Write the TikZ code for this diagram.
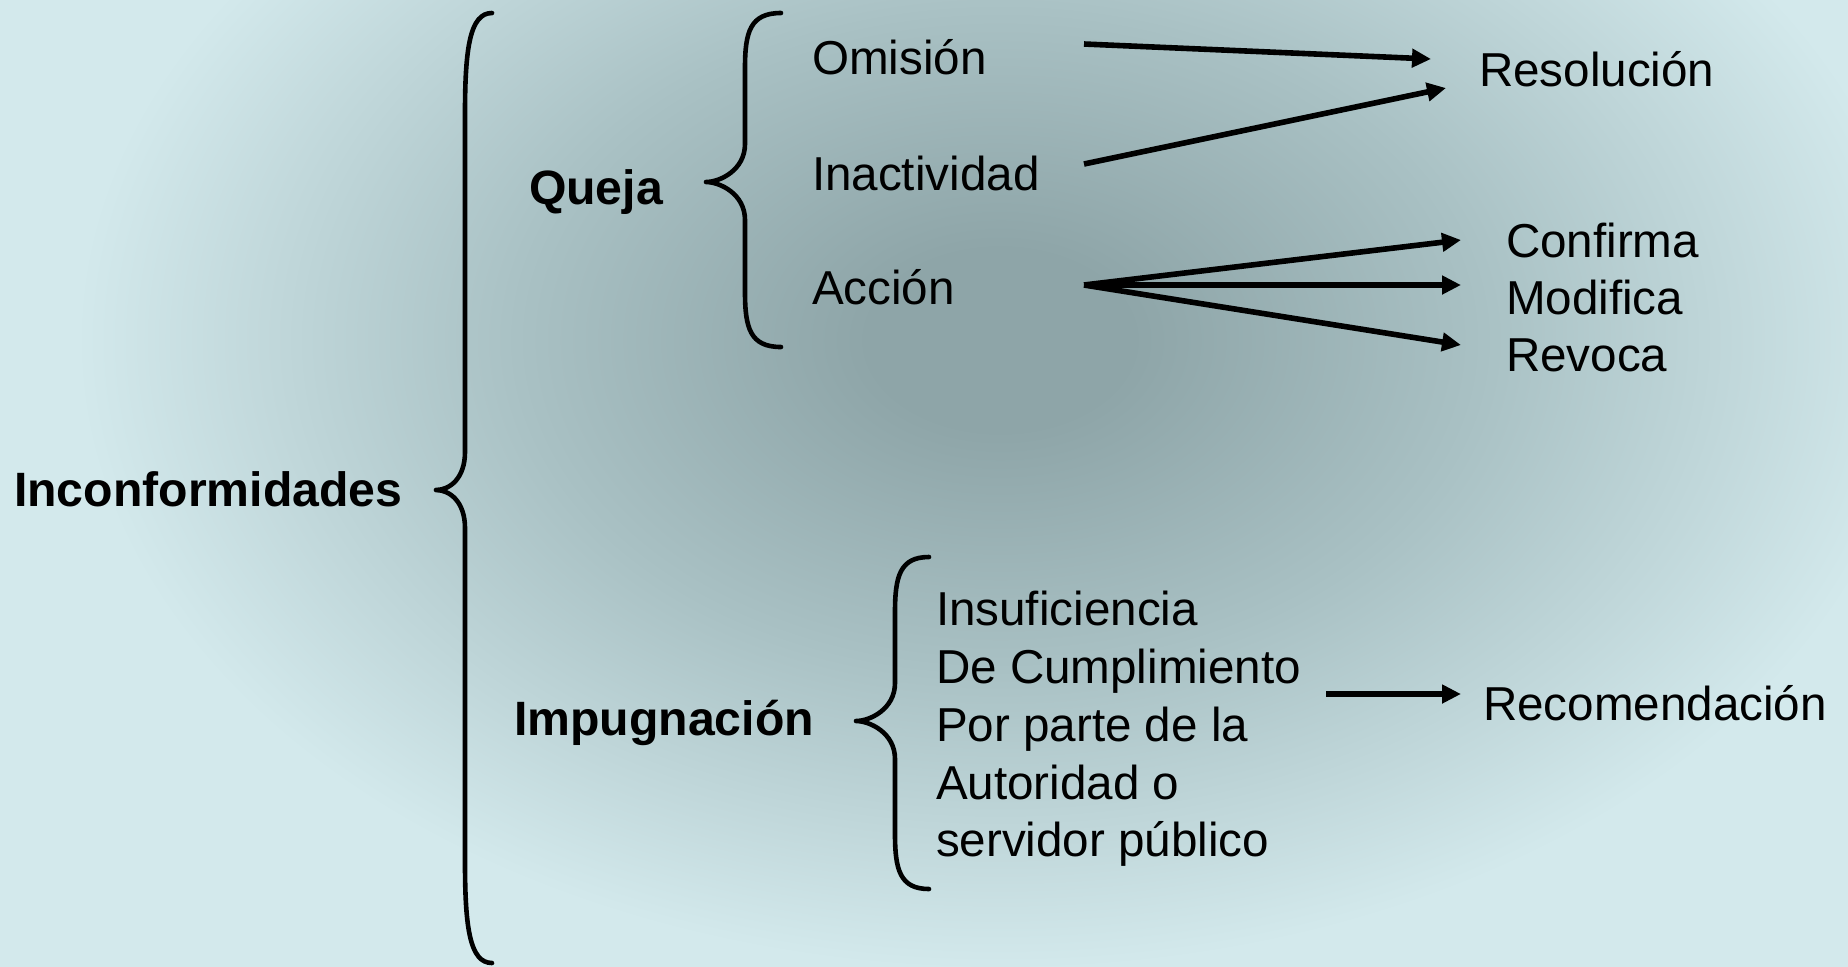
\documentclass[tikz,border=0pt]{standalone}
\usepackage{fontspec}
\setmainfont{Liberation Sans}
\usetikzlibrary{arrows.meta, positioning, calc}
\definecolor{bgdark}{HTML}{8EA5A8}
\definecolor{bgmid}{HTML}{A9C1C4}
\definecolor{bglight}{HTML}{D3E9EC}
\pgfdeclareradialshading{bgshade}{\pgfpoint{0bp}{0bp}}{color(0bp)=(bgdark); color(3bp)=(bgdark); color(11bp)=(bgmid); color(21bp)=(bglight); color(50bp)=(bglight)}
\newcommand{\braceD}[7]
{
	\draw[brace] (#1, #4) .. controls (#2+5, #4) and (#2, #4+0.35*#7) .. (#2, #4+#7)
		-- (#2, #5-38) .. controls (#2, #5-12) and (#3+14, #5) .. (#3, #5)
		.. controls (#3+14, #5) and (#2, #5+12) .. (#2, #5+38)
		-- (#2, #6-#7) .. controls (#2, #6-0.35*#7) and (#2+5, #6) .. (#1, #6)
}

\begin{document}
\begin{tikzpicture}[x=0.5pt, y=-0.5pt,
			txt/.style={anchor=base west, inner sep=0, outer sep=0,
				font=\fontsize{23.8pt}{28.85pt}\selectfont},
			head/.append style={txt, font=\fontsize{24.1pt}{28.85pt}\selectfont\bfseries},
			brace/.style={draw=black, line width=2.3pt, line cap=round, line join=round},
			link/.style={draw=black, line width=2.8pt, -{Triangle[length=9.5pt, width=9pt]}}]
			
			\useasboundingbox (0, 0) rectangle (1848, 966);
			\begin{scope}
				\clip (0, 0) rectangle (1848, 966);
				\shade[shading=bgshade] (-100, -410) rectangle (2100, 1090);
			\end{scope}
			
			\node[head] at (14, 506) (inconf){Inconformidades};
			\node[head] at (529, 204) (queja){Queja};
			\node[head] at (514, 735) (impug){Impugnación};
			
			\node[txt] at (812, 74) (omision){Omisión};
			\node[txt] at (812, 190) (inactividad){Inactividad};
			\node[txt] at (812, 304) (accion){Acción};
			\node[txt] at (1479, 86) (resolucion){Resolución};
			\node[txt] at (1506, 257) (confirma){Confirma};
			\node[txt] at (1506, 314) (modifica){Modifica};
			\node[txt] at (1506, 371) (revoca){Revoca};
			\node[txt, anchor=west, align=left] at (936, 729) (insuf){Insuficiencia\\De Cumplimiento\\Por parte de la\\Autoridad o\\servidor público};
			\node[txt] at (1483, 720) (recomend){Recomendación};
			
			\braceD{492}{465}{436}{13}{490}{963}{100};
			\braceD{781}{745}{706}{13}{182}{347}{55};
			\braceD{929}{895}{856}{557}{721}{889}{55};
			
			\coordinate (omision-out) at (1084, 44);
			\coordinate (inactividad-out) at (1084, 164);
			\coordinate (accion-out) at (1084, 285);
			\coordinate (insuf-out) at (1326, 694);
			\coordinate (resolucion-a) at (1431, 59);
			\coordinate (resolucion-b) at (1446, 88);
			\coordinate (confirma-in) at (1461, 240);
			\coordinate (modifica-in) at (1461, 285);
			\coordinate (revoca-in) at (1461, 345);
			\coordinate (recomend-in) at (1461, 694);
			
			\draw[link] (omision-out) -- (resolucion-a);
			\draw[link] (inactividad-out) -- (resolucion-b);
			\draw[link] (accion-out) -- (confirma-in);
			\draw[link] (accion-out) -- (modifica-in);
			\draw[link] (accion-out) -- (revoca-in);
			\draw[link] (insuf-out) -- (recomend-in);
		\end{tikzpicture}
\end{document}
